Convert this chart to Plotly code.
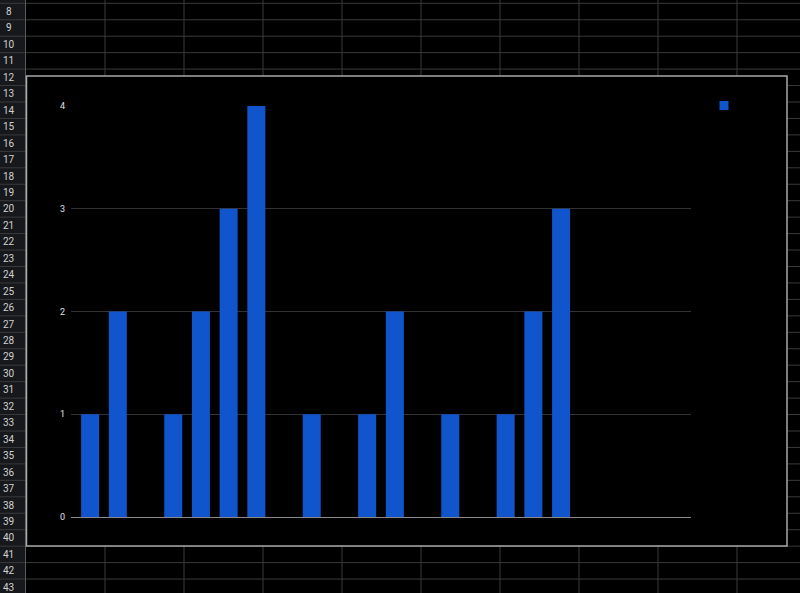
import plotly.graph_objects as go

# ---- data ----
categories = list(range(22))
values = [1, 2, 0, 1, 2, 3, 4, 0, 1, 0, 1, 2, 0, 1, 0, 1, 2, 3, 0, 0, 0, 0]
y_ticks = [0, 1, 2, 3, 4]
row_numbers = list(range(8, 44))

W, H = 800, 593
PL, PR, PT, PB = 71, 691, 106, 517  # plot area in pixels


def px(x):
    return (x - PL) / (PR - PL)


def py(y):
    return (PB - y) / (PB - PT)


shapes = []
annotations = []

GRID = "#3a3a3a"
# header column background
shapes.append(dict(type="rect", xref="paper", yref="paper", x0=px(0), x1=px(25.5),
                   y0=py(0), y1=py(H), fillcolor="#17181b", line=dict(width=0), layer="below"))
# row lines
row_h = 16.45
first_top = 3.3
for i in range(-1, 37):
    y = first_top + i * row_h
    shapes.append(dict(type="line", xref="paper", yref="paper", x0=px(0), x1=px(W),
                       y0=py(y), y1=py(y), line=dict(color=GRID, width=1), layer="below"))
# column lines
shapes.append(dict(type="line", xref="paper", yref="paper", x0=px(25.5), x1=px(25.5),
                   y0=py(0), y1=py(H), line=dict(color="#5a5a5a", width=1), layer="below"))
for k in range(1, 10):
    x = 26 + k * 79
    shapes.append(dict(type="line", xref="paper", yref="paper", x0=px(x), x1=px(x),
                       y0=py(0), y1=py(H), line=dict(color=GRID, width=1), layer="below"))
# row number labels
for i, n in enumerate(row_numbers):
    yc = first_top + i * row_h + row_h / 2
    annotations.append(dict(text=str(n), xref="paper", yref="paper", x=px(8.5), y=py(yc),
                            xanchor="center", yanchor="middle", showarrow=False,
                            font=dict(size=10, color="#d0d0d0", family="Roboto")))

# chart box
shapes.append(dict(type="rect", xref="paper", yref="paper", x0=px(26.5), x1=px(787),
                   y0=py(76), y1=py(546), fillcolor="#000000",
                   line=dict(color="#a8a8a8", width=1.5), layer="below"))
# legend marker
shapes.append(dict(type="rect", xref="paper", yref="paper", x0=px(719.5), x1=px(728.5),
                   y0=py(101), y1=py(110), fillcolor="#1155cc",
                   line=dict(width=0), layer="above"))

fig = go.Figure()
fig.add_trace(go.Bar(x=categories, y=values, width=0.65, marker=dict(color="#1155cc", line=dict(width=0)),
                     showlegend=False, hoverinfo="y"))

fig.update_layout(
    width=W, height=H,
    margin=dict(l=PL, r=W - PR, t=PT, b=H - PB, pad=0),
    paper_bgcolor="#000000",
    plot_bgcolor="rgba(0,0,0,0)",
    shapes=shapes,
    annotations=annotations,
    showlegend=False,
    xaxis=dict(range=[-0.69, 21.69], showticklabels=False, ticks="", showgrid=False,
               zeroline=False, showline=True, linecolor="#8a8a8a", linewidth=1),
    yaxis=dict(range=[0, 4], tickvals=y_ticks, ticks="", showgrid=True, gridcolor="#333333",
               gridwidth=1, zeroline=False, showline=False,
               tickfont=dict(size=9, color="#e0e0e0", family="Roboto"), ticklabelstandoff=5),
    font=dict(family="Roboto"),
)

fig.write_html("out.html", config={"displayModeBar": False},
               post_script="document.body.style.margin='0';document.body.style.overflow='hidden';")
